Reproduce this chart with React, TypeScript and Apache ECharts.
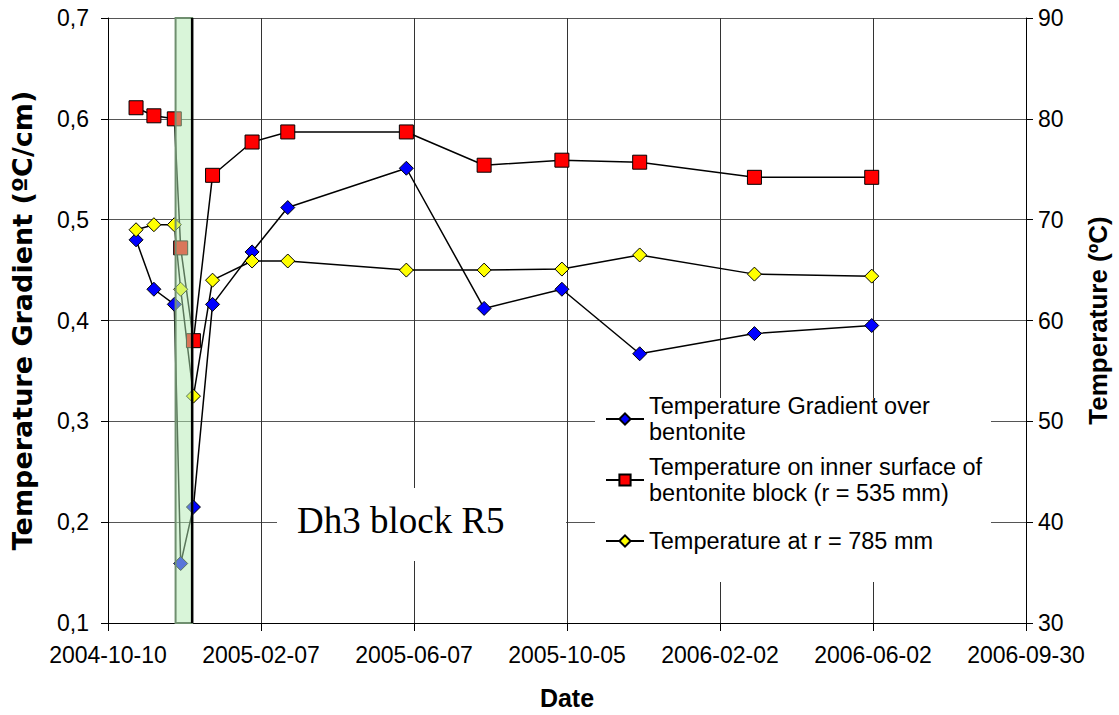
import React, { useEffect, useRef } from 'react';
import * as echarts from 'echarts';

const AXIS_START = '2004-10-10';
const X_MAX_DAYS = 720;
const X_INTERVAL = 120;

const dates = [
  '2004-11-01', '2004-11-15', '2004-12-01', '2004-12-06', '2004-12-16', '2004-12-31', '2005-01-31',
  '2005-02-28', '2005-06-01', '2005-08-01', '2005-10-01', '2005-12-01', '2006-03-01', '2006-06-01',
];
const gradient = [0.48, 0.431, 0.416, 0.159, 0.215, 0.416, 0.468, 0.512, 0.551, 0.412, 0.431, 0.367, 0.387, 0.395];
const innerTemp = [81.1, 80.3, 80.0, 67.2, 58.0, 74.4, 77.7, 78.7, 78.7, 75.4, 75.9, 75.7, 74.2, 74.2];
const outerTemp = [69.0, 69.5, 69.5, 63.1, 52.5, 64.0, 65.9, 65.9, 65.0, 65.0, 65.1, 66.5, 64.6, 64.4];
const bandDates = ['2004-12-02', '2004-12-15'];
const seriesNames = [
  'Temperature Gradient over\nbentonite',
  'Temperature on inner surface of\nbentonite block (r = 535 mm)',
  'Temperature at r = 785 mm',
];
const leftAxis = { min: 0.1, max: 0.7, interval: 0.1 };
const rightAxis = { min: 30, max: 90, interval: 10 };
const annotation = 'Dh3 block R5';

const DAY = 86400000;
const dayOf = (s: string) => (Date.parse(s) - Date.parse(AXIS_START)) / DAY;
const dateLabel = (v: number) => new Date(Date.parse(AXIS_START) + v * DAY).toISOString().slice(0, 10);

const FONT = '"Liberation Sans", Arial, sans-serif';
const LH = 26;

export default function App() {
  const ref = useRef<HTMLDivElement>(null);
  useEffect(() => {
    if (!ref.current) return;
    const chart = echarts.init(ref.current, undefined, { renderer: 'svg' });
    const mk = (vals: number[]) => dates.map((d, i) => [dayOf(d), vals[i]]);
    const baseLine = { type: 'line', lineStyle: { color: '#000', width: 1.5 }, emphasis: { disabled: true } };
    const legendBase = {
      orient: 'vertical', padding: 0, itemWidth: 38, itemHeight: 14, selectedMode: false, left: 605,
      textStyle: { fontSize: 23.5, lineHeight: LH, fontFamily: FONT, color: '#000' },
    };
    chart.setOption({
      animation: false,
      backgroundColor: '#fff',
      grid: { left: 108, right: 88, top: 18, bottom: 91 },
      xAxis: {
        type: 'value', min: 0, max: X_MAX_DAYS, interval: X_INTERVAL,
        name: 'Date', nameLocation: 'middle', nameGap: 62,
        nameTextStyle: { fontSize: 25, fontWeight: 'bold', fontFamily: FONT, color: '#000' },
        axisLine: { show: true, onZero: false, lineStyle: { color: '#000', width: 1 } },
        axisTick: { show: true, length: 8, lineStyle: { color: '#000' } },
        axisLabel: { formatter: dateLabel, fontSize: 23, fontFamily: FONT, color: '#000', margin: 20 },
        splitLine: { show: true, lineStyle: { color: '#333', width: 1 } },
      },
      yAxis: [
        {
          type: 'value', ...leftAxis, position: 'left',
          name: 'Temperature Gradient (ºC/cm)', nameLocation: 'middle', nameGap: 72,
          nameTextStyle: { fontSize: 27, fontWeight: 'bold', fontFamily: '"DejaVu Sans", sans-serif', color: '#000' },
          axisLine: { show: true, lineStyle: { color: '#000', width: 1 } },
          axisTick: { show: true, length: 7, lineStyle: { color: '#000' } },
          axisLabel: { formatter: (v: number) => v.toFixed(1).replace('.', ','), fontSize: 23, fontFamily: FONT, color: '#000', margin: 19 },
          splitLine: { show: true, lineStyle: { color: '#555', width: 1 } },
        },
        {
          type: 'value', ...rightAxis, position: 'right',
          name: 'Temperature (ºC)', nameLocation: 'middle', nameGap: 59,
          nameTextStyle: { fontSize: 26, fontWeight: 'bold', fontFamily: FONT, color: '#000' },
          axisLine: { show: true, lineStyle: { color: '#000', width: 1 } },
          axisTick: { show: true, length: 7, lineStyle: { color: '#000' } },
          axisLabel: { fontSize: 23, fontFamily: FONT, color: '#000', margin: 12 },
          splitLine: { show: false },
        },
      ],
      legend: [
        { ...legendBase, top: 380, data: [{ name: seriesNames[0], textStyle: { padding: [LH, 0, 0, 0] } }] },
        { ...legendBase, top: 441, data: [{ name: seriesNames[1], textStyle: { padding: [LH, 0, 0, 0] } }] },
        { ...legendBase, top: 528, data: [{ name: seriesNames[2] }] },
      ],
      graphic: [
        { type: 'rect', z: 1, silent: true, shape: { x: 595, y: 398, width: 396, height: 184 }, style: { fill: '#fff' } },
        { type: 'rect', z: 1, silent: true, shape: { x: 277, y: 488, width: 289, height: 73 }, style: { fill: '#fff' } },
        {
          type: 'text', z: 1, silent: true, x: 297, y: 520,
          style: { text: annotation, fontSize: 37, fontFamily: '"Liberation Serif", "Times New Roman", serif', fill: '#000', verticalAlign: 'middle' },
        },
      ],
      series: [
        {
          ...baseLine, name: seriesNames[0], yAxisIndex: 0, data: mk(gradient),
          symbol: 'diamond', symbolSize: 14,
          itemStyle: { color: '#0000ff', borderColor: '#000', borderWidth: 1 },
        },
        {
          ...baseLine, name: seriesNames[1], yAxisIndex: 1, data: mk(innerTemp),
          symbol: 'rect', symbolSize: 14,
          itemStyle: { color: '#ff0000', borderColor: '#000', borderWidth: 1 },
        },
        {
          ...baseLine, name: seriesNames[2], yAxisIndex: 1, data: mk(outerTemp),
          symbol: 'diamond', symbolSize: 14,
          itemStyle: { color: '#ffff00', borderColor: '#000', borderWidth: 1 },
        },
        {
          type: 'custom', name: 'band', yAxisIndex: 0, z: 5, silent: true,
          data: [[dayOf(bandDates[0]), dayOf(bandDates[1])]],
          encode: { x: [0, 1] },
          renderItem: (_p: any, api: any) => {
            const a = api.coord([api.value(0), leftAxis.max]);
            const b = api.coord([api.value(1), leftAxis.min]);
            return {
              type: 'group',
              children: [
                {
                  type: 'rect',
                  shape: { x: a[0], y: a[1], width: b[0] - a[0], height: b[1] - a[1] },
                  style: { fill: 'rgba(180,236,180,0.5)', stroke: '#6f8f6f', lineWidth: 2 },
                },
                {
                  type: 'line',
                  shape: { x1: b[0], y1: a[1], x2: b[0], y2: b[1] },
                  style: { stroke: '#000', lineWidth: 2.5 },
                },
              ],
            };
          },
        },
      ],
    });
    return () => chart.dispose();
  }, []);
  return <div ref={ref} style={{ position: 'fixed', left: 0, top: 0, width: 1119, height: 715 }} />;
}
